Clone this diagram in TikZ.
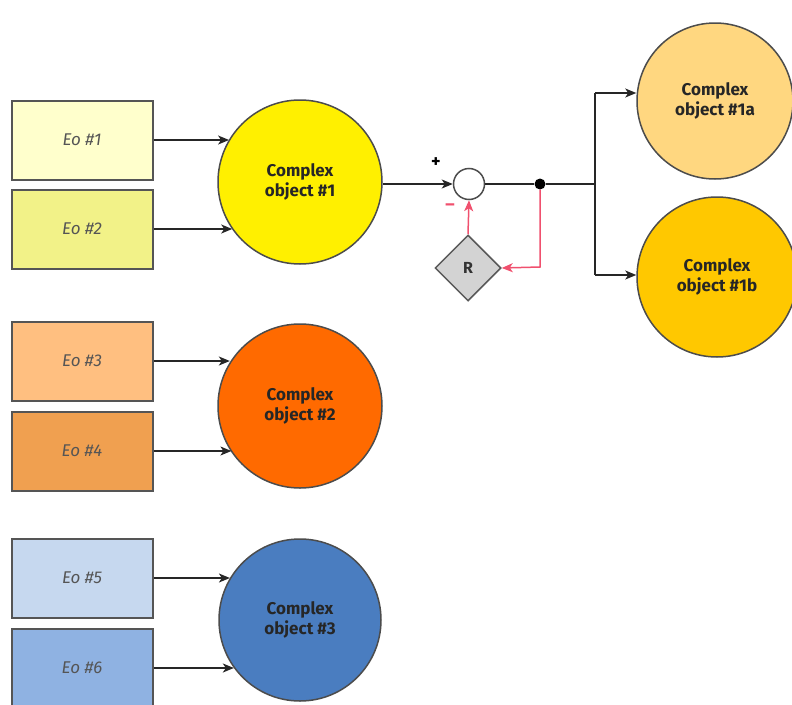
\documentclass[tikz,border=0pt]{standalone}
\usepackage{fontspec}
\setmainfont{Fira Sans}
\usetikzlibrary{shapes.geometric,arrows.meta}
\definecolor{eoA}{HTML}{FFFFCC}
\definecolor{eoB}{HTML}{F2F288}
\definecolor{coA}{HTML}{FFF000}
\definecolor{eoC}{HTML}{FFBF80}
\definecolor{eoD}{HTML}{F0A050}
\definecolor{coB}{HTML}{FF6A00}
\definecolor{eoE}{HTML}{C6D8EF}
\definecolor{eoF}{HTML}{8FB2E2}
\definecolor{coC}{HTML}{4A7DC0}
\definecolor{coAa}{HTML}{FFD780}
\definecolor{coAb}{HTML}{FFC800}
\definecolor{rgray}{HTML}{D3D3D3}
\definecolor{edge}{HTML}{555555}
\definecolor{fb}{HTML}{F0506E}
\tikzset{
  eobox/.style={draw=edge, line width=2pt, minimum width=141pt, minimum height=79pt, inner sep=0pt,
    font=\fontsize{17}{19}\selectfont\itshape, text=edge},
  cobj/.style={circle, draw=black!70, line width=1.5pt, minimum size=#1, inner sep=0pt, align=center,
    font=\fontsize{17}{20}\selectfont\bfseries, text=black!85},
  conn/.style={draw=black!85, line width=1.5pt, -{Stealth[length=11pt,width=9pt,inset=3pt]}},
  plain/.style={draw=black!85, line width=1.5pt},
  fba/.style={draw=fb, line width=1.5pt, -{Stealth[length=11pt,width=9pt,inset=3pt]}},
}
\begin{document}
\begin{tikzpicture}[x=1pt,y=-1pt]
\useasboundingbox (0,0) rectangle (792,704);
% boxes
\node[eobox, fill=eoA] (e1) at (82,140) {Eo \#1};
\node[eobox, fill=eoB] (e2) at (82,229) {Eo \#2};
\node[eobox, fill=eoC] (e3) at (82,361) {Eo \#3};
\node[eobox, fill=eoD] (e4) at (82,451) {Eo \#4};
\node[eobox, fill=eoE] (e5) at (82,578) {Eo \#5};
\node[eobox, fill=eoF] (e6) at (82,668) {Eo \#6};
% circles
\node[cobj=164pt, fill=coA] (c1) at (300,182) {Complex\\object \#1};
\node[cobj=164pt, fill=coB] (c2) at (300,406) {Complex\\object \#2};
\node[cobj=162pt, fill=coC] (c3) at (300,620) {Complex\\object \#3};
\node[cobj=156pt, fill=coAa] (c1a) at (715,101) {Complex\\object \#1a};
\node[cobj=160pt, fill=coAb] (c1b) at (717,277) {Complex\\object \#1b};
% summing junction, dot, R
\node[circle, draw=black!70, line width=1.5pt, fill=white, minimum size=31pt, inner sep=0pt] (sum) at (469,184) {};
\node[circle, fill=black, minimum size=11pt, inner sep=0pt] (dot) at (540,184) {};
\node[diamond, draw=black!65, line width=1.5pt, fill=rgray, minimum width=66pt, minimum height=66pt, inner sep=0pt,
  font=\fontsize{16}{18}\selectfont\bfseries, text=black!80] (R) at (468,268) {R};
\node[font=\fontsize{18}{20}\selectfont\bfseries] (plus) at (436,163) {+};
\node[font=\fontsize{18}{20}\selectfont\bfseries, text=fb] (minus) at (450,207) {--};
\coordinate (split) at (595,184);
\coordinate (splitA) at (595,93);
\coordinate (splitB) at (595,275);
\coordinate (corner) at (540,267);
% connectors boxes -> circles
\draw[conn] (e1.east) -- (e1.east -| c1.149);
\draw[conn] (e2.east) -- (e2.east -| c1.215);
\draw[conn] (e3.east) -- (e3.east -| c2.148);
\draw[conn] (e4.east) -- (e4.east -| c2.214);
\draw[conn] (e5.east) -- (e5.east -| c3.149);
\draw[conn] (e6.east) -- (e6.east -| c3.216);
% main path
\draw[conn] (c1.east |- sum.west) -- (sum.west);
\draw[plain] (sum.east) -- (dot) -- (split);
\draw[plain] (splitA) -- (splitB);
\draw[conn] (splitA) -- (splitA -| c1a.west);
\draw[conn] (splitB) -- (splitB -| c1b.west);
% feedback
\draw[fba] (dot) -- (corner) -- (R.east);
\draw[fba] (R.north) -- (sum.south);
\end{tikzpicture}
\end{document}
